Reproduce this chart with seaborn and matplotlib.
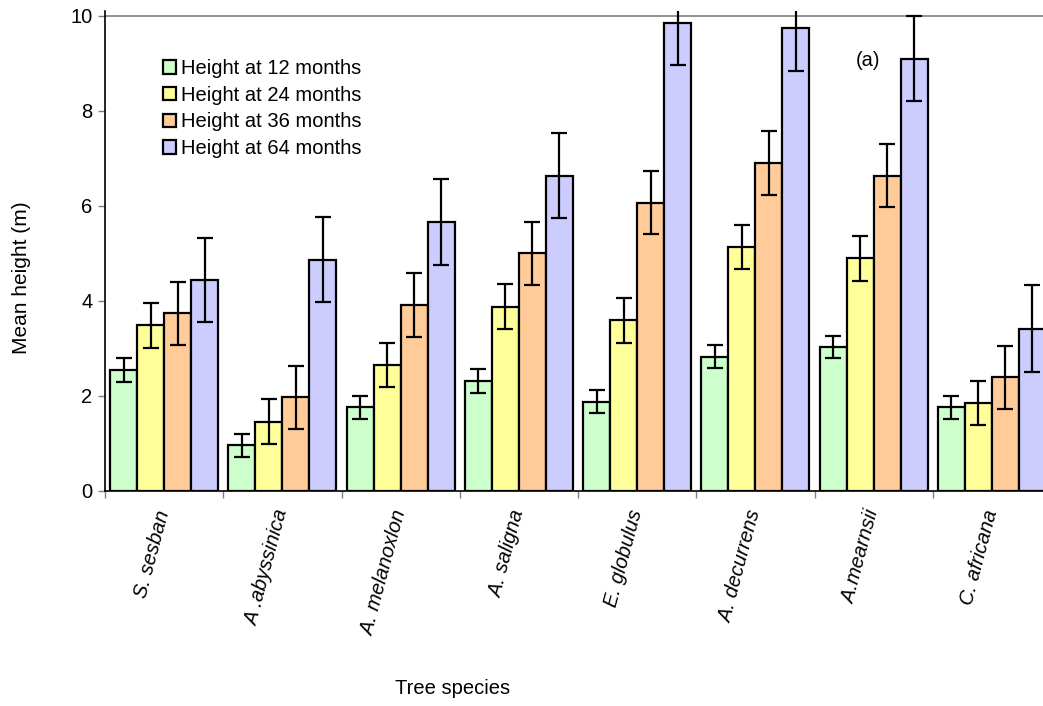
import numpy as np
import pandas as pd
import matplotlib
matplotlib.use("Agg")
import matplotlib.pyplot as plt
from matplotlib.patches import Patch
import seaborn as sns

species = ["S. sesban", "A .abyssinica", "A. melanoxlon", "A. saligna",
           "E. globulus", "A. decurrens", "A.mearnsii", "C. africana"]
series = ["Height at 12 months", "Height at 24 months",
          "Height at 36 months", "Height at 64 months"]

h12 = [2.55, 0.96, 1.76, 2.32, 1.88, 2.83, 3.03, 1.76]
h24 = [3.49, 1.46, 2.65, 3.88, 3.59, 5.14, 4.90, 1.85]
h36 = [3.74, 1.97, 3.91, 5.00, 6.07, 6.90, 6.64, 2.39]
h64 = [4.44, 4.87, 5.66, 6.64, 9.86, 9.74, 9.10, 3.42]

e12 = [0.25, 0.25, 0.25, 0.25, 0.24, 0.24, 0.24, 0.24]
e24 = [0.47, 0.47, 0.47, 0.47, 0.47, 0.47, 0.47, 0.47]
e36 = [0.67, 0.67, 0.67, 0.66, 0.67, 0.67, 0.67, 0.67]
e64 = [0.89, 0.90, 0.90, 0.90, 0.90, 0.89, 0.89, 0.91]

colors = ["#CCFFCC", "#FFFF99", "#FFCC99", "#CCCCFF"]

df = pd.DataFrame({
    "species": species * 4,
    "period": np.repeat(series, len(species)),
    "height": h12 + h24 + h36 + h64,
})
errs = [e12, e24, e36, e64]

sns.set_style("white")
plt.rcParams["font.family"] = ["Liberation Sans", "DejaVu Sans"]
plt.rcParams["text.color"] = "black"
plt.rcParams["xtick.color"] = "black"
plt.rcParams["ytick.color"] = "black"

fig = plt.figure(figsize=(10.43, 7.06), dpi=100)
# plot area runs past the right edge of the picture, like the original
ax = fig.add_axes([105 / 1043, 215 / 706, 946 / 1043, 480 / 706])

sns.barplot(data=df, x="species", y="height", hue="period", palette=colors,
            order=species, hue_order=series, width=0.913, gap=0,
            saturation=1, edgecolor="black", linewidth=1.6, errorbar=None,
            ax=ax, legend=False)

for cont, err in zip(ax.containers, errs):
    xs = [p.get_x() + p.get_width() / 2 for p in cont.patches]
    ys = [p.get_height() for p in cont.patches]
    ax.errorbar(xs, ys, yerr=err, fmt="none", ecolor="black",
                elinewidth=1.6, capsize=5.5, capthick=1.6)

ax.set_xlim(-0.5, 7.5)
ax.set_ylim(0, 10.105)
ax.set_yticks([0, 2, 4, 6, 8, 10])
ax.set_yticklabels(["0", "2", "4", "6", "8", "10"], fontsize=14.5)
ax.axhline(10, color="#808080", lw=1.2, zorder=0.5)

ax.set_xticks(np.arange(-0.5, 8.0, 1.0))
ax.set_xticklabels([])
ax.set_xticks(np.arange(8), minor=True)
ax.set_xticklabels(species, minor=True, rotation=75, fontsize=14.5,
                   style="italic", ha="right", va="center",
                   rotation_mode="anchor")
ax.tick_params(axis="x", which="minor", length=0, pad=14)
ax.tick_params(axis="x", which="major", length=5, width=1, color="#808080",
               direction="out", bottom=True)
ax.tick_params(axis="y", length=5, width=1, direction="out", left=True,
               pad=4, color="#808080")

ax.set_xlabel("")
ax.set_ylabel("")
for s in ["top", "right"]:
    ax.spines[s].set_visible(False)
ax.spines["left"].set_color("black")
ax.spines["bottom"].set_color("black")
ax.spines["left"].set_linewidth(1.2)
ax.spines["bottom"].set_linewidth(1.2)

handles = [Patch(facecolor=c, edgecolor="black", linewidth=1.6) for c in colors]
ax.legend(handles, series, loc="upper left",
          bbox_to_anchor=(50 / 946, (491 - 51) / 480), frameon=False,
          fontsize=14.5, handlelength=0.65, handleheight=0.65,
          handletextpad=0.25, labelspacing=0.38, borderaxespad=0)

fig.text(868 / 1043, 1 - 60 / 706, "(a)", fontsize=14.5, ha="center",
         va="center")
fig.text(453 / 1043, 1 - 688 / 706, "Tree species", fontsize=14.5,
         ha="center", va="center")
fig.text(22 / 1043, 1 - 278 / 706, "Mean height (m)", fontsize=15,
         rotation=90, ha="center", va="center")

fig.savefig("out.png", dpi=100)
